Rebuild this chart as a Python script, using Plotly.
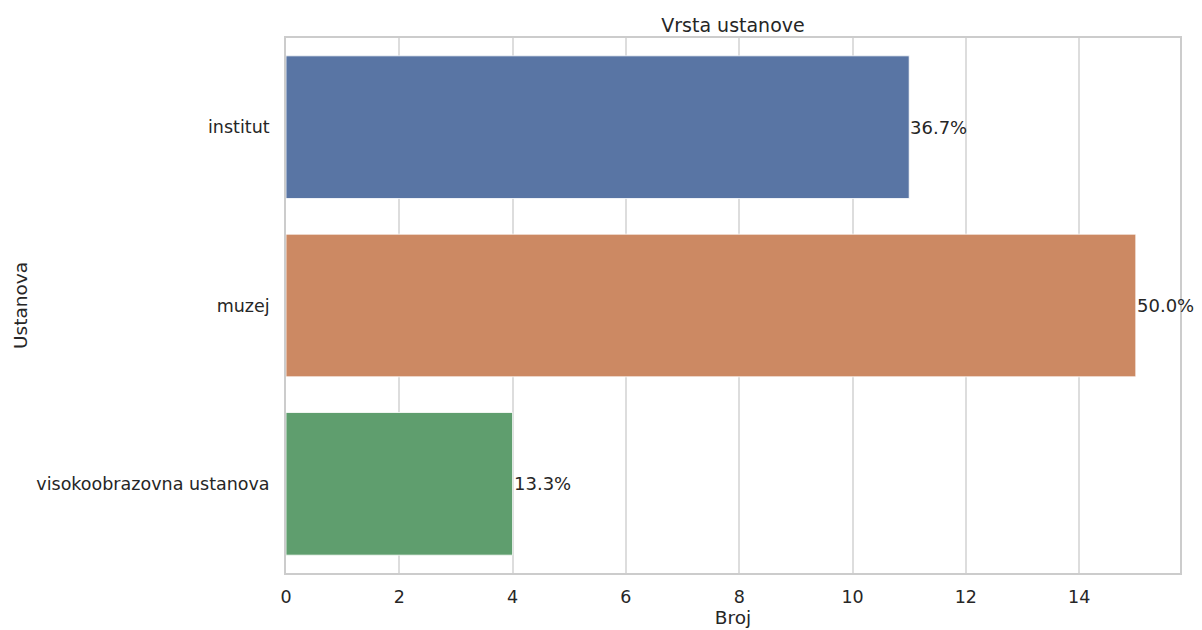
import plotly.graph_objects as go

categories = ["institut", "muzej", "visokoobrazovna ustanova"]
counts = [11, 15, 4]
colors = ["#5975a4", "#cc8963", "#5f9e6e"]
x_ticks = [0, 2, 4, 6, 8, 10, 12, 14]

total = sum(counts)
percent_labels = [f"{100 * c / total:.1f}%" for c in counts]

font_family = "DejaVu Sans"
text_color = "#262626"

fig = go.Figure()
fig.add_trace(go.Bar(
    x=counts,
    y=categories,
    orientation="h",
    marker=dict(color=colors, line=dict(color="white", width=0.8)),
    width=0.8,
    hoverinfo="x+y",
))

annotations = []
for cat, c, lab in zip(categories, counts, percent_labels):
    annotations.append(dict(
        x=c, y=cat, xref="x", yref="y", text=lab, showarrow=False,
        xanchor="left", yanchor="middle", xshift=-1,
        font=dict(family=font_family, size=18, color=text_color),
    ))

fig.update_layout(
    width=1202, height=630,
    margin=dict(l=286, r=22, t=38, b=57, autoexpand=False),
    paper_bgcolor="white", plot_bgcolor="white",
    showlegend=False,
    annotations=annotations,
    title=dict(text="Vrsta ustanove", x=0.5, xref="paper", xanchor="center",
               y=1, yref="paper", yanchor="bottom", pad=dict(b=6),
               font=dict(family=font_family, size=19, color=text_color)),
    font=dict(family=font_family, size=17, color=text_color),
)
fig.update_xaxes(
    range=[0, max(counts) * 1.052],
    tickvals=x_ticks,
    ticktext=[str(t) for t in x_ticks],
    showgrid=True, gridcolor="#dddddd", gridwidth=1.6,
    zeroline=False,
    showline=True, linecolor="#cccccc", linewidth=1.8, mirror=True,
    ticks="", ticklabelstandoff=7,
    automargin=False,
    tickfont=dict(family=font_family, size=17.5, color=text_color),
    title=dict(text="Broj", standoff=4,
               font=dict(family=font_family, size=18.5, color=text_color)),
)
fig.update_yaxes(
    categoryorder="array", categoryarray=categories,
    range=[2.5, -0.5],
    showgrid=False, zeroline=False,
    showline=True, linecolor="#cccccc", linewidth=1.8, mirror=True,
    ticks="", ticklabelstandoff=11,
    automargin=False,
    tickfont=dict(family=font_family, size=17.5, color=text_color),
    title=dict(text="Ustanova", standoff=4,
               font=dict(family=font_family, size=18.5, color=text_color)),
)

fig.write_html("out.html",
               config={"displayModeBar": False},
               post_script="document.body.style.margin='0';document.body.style.padding='0';")
